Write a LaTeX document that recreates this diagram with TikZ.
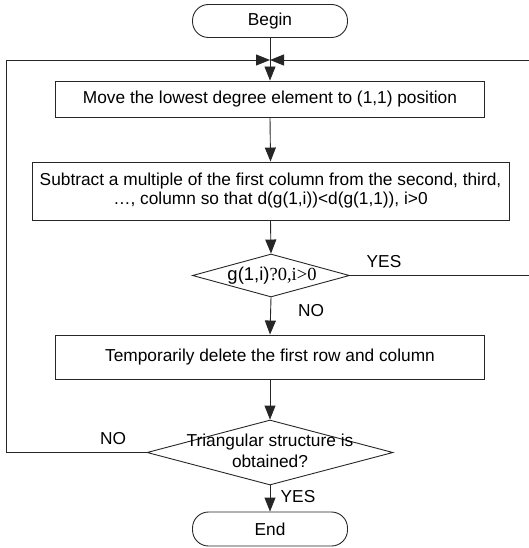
\documentclass[tikz,border=0pt]{standalone}
\usepackage{fontspec}
\setmainfont{Liberation Sans}
\newfontfamily\tms{Liberation Serif}
\usetikzlibrary{arrows.meta,shapes.geometric}
\begin{document}
\begin{tikzpicture}[x=1pt,y=-1pt,
  every node/.style={font=\fontsize{17.3}{20.5}\selectfont},
  ln/.style={draw=black!85,line width=0.9pt},
  arr/.style={ln,-{Triangle[length=14pt,width=11pt]}},
  procbox/.style={ln,rectangle,inner sep=0pt,align=center},
  term/.style={ln,rectangle,rounded corners=16pt,minimum width=155pt,inner sep=0pt},
  dia/.style={ln,diamond,inner sep=0pt},
  lbl/.style={inner sep=0pt}]
\useasboundingbox (0,0) rectangle (528,548);
\node[term,minimum height=33pt] (begin) at (270,21) {Begin};
\node[procbox,minimum width=429pt,minimum height=36pt] (b1) at (270,99) {Move the lowest degree element to (1,1) position};
\node[procbox,minimum width=477pt,minimum height=58pt] (b2) at (270.5,191) {Subtract a multiple of the first column from the second, third,\\[-1.5pt] \ldots, column so that d(g(1,i))<d(g(1,1)), i>0};
\node[dia,minimum width=157pt,minimum height=43pt] (d1) at (271,275.5) {};
\node[lbl,font=\fontsize{18.5}{20}\selectfont] (d1t) at (272,276) {g(1,i){\tms ?0,i>0}};
\node[procbox,minimum width=429pt,minimum height=44pt] (b3) at (270,357) {Temporarily delete the first row and column};
\node[dia,minimum width=246pt,minimum height=65pt] (d2) at (270,452.5) {};
\node[lbl,align=center] (d2t) at (270,451) {Triangular structure is\\[0pt] obtained?};
\node[term,minimum height=34pt] (end) at (270,529) {End};
\coordinate (m) at (270,60);
\coordinate (lt) at (6,60);
\coordinate (rt) at (535,60);
\draw[arr] (begin.south) -- (b1.north);
\draw[arr] (b1.south) -- (b2.north);
\draw[arr] (b2.south) -- (d1.north);
\draw[arr] (d1.south) -- (b3.north);
\draw[arr] (b3.south) -- (d2.north);
\draw[arr] (d2.south) -- (end.north);
\draw[arr] (d2.west) -| (lt) -- (m);
\draw[arr] (d1.east) -| (rt) -- (m);
\node[lbl] (yes1) at (384,262) {YES};
\node[lbl] (no1) at (311,311) {NO};
\node[lbl] (no2) at (113,439) {NO};
\node[lbl] (yes2) at (298,497) {YES};
\end{tikzpicture}
\end{document}
